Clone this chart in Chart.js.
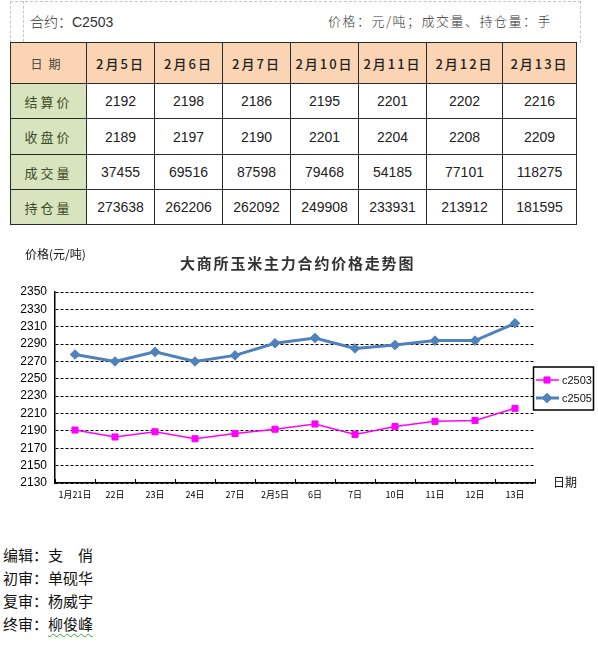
<!DOCTYPE html>
<html>
<head>
<meta charset="utf-8">
<script src="https://cdn.jsdelivr.net/npm/chart.js@4.4.1/dist/chart.umd.min.js"></script>
<style>
  html,body{margin:0;padding:0;background:#fff;}
  body{width:598px;height:647px;position:relative;overflow:hidden;font-family:"Noto Sans CJK SC",sans-serif;}
  #hdrbox{position:absolute;left:10px;top:1px;width:571px;height:42px;border:1px dashed #c4c4c4;border-bottom:none;box-sizing:border-box;}
  #hdrline{position:absolute;left:23px;top:1px;width:0;height:41px;border-left:1px dashed #c4c4c4;}
  #contract{position:absolute;left:30px;top:12px;font-size:14px;line-height:18px;color:#333;font-weight:300;}
  #contract .en{font-family:"Liberation Sans",Arial,sans-serif;font-weight:400;}
  #units{position:absolute;left:328px;top:12px;font-size:13px;line-height:18px;color:#333;letter-spacing:1.5px;font-weight:300;}
  table#tbl{position:absolute;left:10px;top:42px;border-collapse:collapse;table-layout:fixed;}
  #tbl td{border:1.5px solid #2a2a2a;text-align:center;padding:0;vertical-align:middle;}
  #tbl td.h{background:#FBD4B4;font-weight:500;font-size:13px;letter-spacing:2px;color:#222;}
  #tbl td.h0{background:#FBD4B4;font-size:12px;letter-spacing:6px;color:#444;font-weight:400;}
  #tbl td.l{background:#D7E4BD;font-size:13px;letter-spacing:3px;color:#3e4a27;font-weight:400;}
  #tbl td.n{font-family:"Liberation Sans Narrow","Arial Narrow","Liberation Sans",sans-serif;font-size:14px;color:#222;background:#fff;}
  #chartwrap{position:absolute;left:0;top:235px;width:598px;height:285px;}
  #title{position:absolute;left:180px;top:253px;font-size:15px;line-height:20px;font-weight:700;letter-spacing:1.8px;color:#333;white-space:nowrap;}
  #yname{position:absolute;left:25px;top:246px;font-size:12px;line-height:16px;color:#111;white-space:nowrap;}
  #xname{position:absolute;left:553px;top:474px;font-size:12px;line-height:16px;color:#111;white-space:nowrap;}
  #credits{position:absolute;left:3px;top:543px;font-size:15px;line-height:23px;color:#111;}
  #credits .wavy{text-decoration:underline wavy #3a3;text-underline-offset:3px;text-decoration-thickness:1px;}
</style>
</head>
<body>
<div id="hdrbox"></div>
<div id="hdrline"></div>
<div id="contract">合约：<span class="en">C2503</span></div>
<div id="units">价格：元/吨；成交量、持仓量：手</div>
<table id="tbl"></table>

<div id="chartwrap"><canvas id="c" width="598" height="285"></canvas></div>
<div id="title">大商所玉米主力合约价格走势图</div>
<div id="yname">价格(元/吨)</div>
<div id="xname">日期</div>

<div id="credits">
  <div>编辑：支　俏</div>
  <div>初审：单砚华</div>
  <div>复审：杨威宇</div>
  <div>终审：<span class="wavy">柳俊峰</span></div>
</div>

<script>
// ---------- table data ----------
const tableDates = ['2月5日','2月6日','2月7日','2月10日','2月11日','2月12日','2月13日'];
const settlePrice = [2192, 2198, 2186, 2195, 2201, 2202, 2216];
const closePrice  = [2189, 2197, 2190, 2201, 2204, 2208, 2209];
const volume      = [37455, 69516, 87598, 79468, 54185, 77101, 118275];
const openInterest= [273638, 262206, 262092, 249908, 233931, 213912, 181595];
const rowLabels = ['结算价','收盘价','成交量','持仓量'];

// ---------- chart data ----------
const categories = ['1月21日','22日','23日','24日','27日','2月5日','6日','7日','10日','11日','12日','13日'];
const seriesC2503 = [2191, 2183, 2189, 2181, 2187, 2192, 2198, 2186, 2195, 2201, 2202, 2216];
const seriesC2505 = [2278, 2270, 2281, 2270, 2277, 2291, 2297, 2285, 2289, 2294, 2294, 2314];
const seriesNames = ['c2503', 'c2505'];
const yMin = 2130, yMax = 2350, yStep = 20;

// ---------- build table ----------
(function(){
  const colW = [76,68,68,68,68,68,76,74];
  const rowH = [41,35,36,35,35];
  const tbl = document.getElementById('tbl');
  const cg = document.createElement('colgroup');
  colW.forEach(w=>{const c=document.createElement('col');c.style.width=w+'px';cg.appendChild(c);});
  tbl.appendChild(cg);
  const rows = [settlePrice, closePrice, volume, openInterest];
  const hr = document.createElement('tr'); hr.style.height = rowH[0]+'px';
  const h0 = document.createElement('td'); h0.className='h0'; h0.textContent='日期'; hr.appendChild(h0);
  tableDates.forEach(d=>{const td=document.createElement('td');td.className='h';td.textContent=d;hr.appendChild(td);});
  tbl.appendChild(hr);
  rows.forEach((r,i)=>{
    const tr=document.createElement('tr'); tr.style.height=rowH[i+1]+'px';
    const l=document.createElement('td'); l.className='l'; l.textContent=rowLabels[i]; tr.appendChild(l);
    r.forEach(v=>{const td=document.createElement('td');td.className='n';td.textContent=v;tr.appendChild(td);});
    tbl.appendChild(tr);
  });
})();

// ---------- legend plugin ----------
const boxLegend = {
  id:'boxLegend',
  afterDraw(chart){
    const ctx = chart.ctx;
    ctx.save();
    ctx.strokeStyle = '#000'; ctx.lineWidth = 1.5;
    ctx.strokeRect(533.5, 132, 60, 43);
    chart.data.datasets.forEach((ds,i)=>{
      const y = 145 + i*18;
      ctx.strokeStyle = ds.borderColor; ctx.lineWidth = ds.borderWidth;
      ctx.beginPath(); ctx.moveTo(536, y); ctx.lineTo(559, y); ctx.stroke();
      ctx.fillStyle = ds.pointBackgroundColor; ctx.strokeStyle = ds.pointBorderColor; ctx.lineWidth = 1;
      if (Chart.helpers && Chart.helpers.drawPoint) {
        Chart.helpers.drawPoint(ctx, {pointStyle: ds.pointStyle, radius: ds.pointRadius, borderWidth: 1, rotation: 0}, 547, y);
      }
      ctx.fillStyle = '#111';
      ctx.font = "11px 'Liberation Sans Narrow','Liberation Sans',Arial,sans-serif";
      ctx.textAlign = 'left'; ctx.textBaseline = 'middle';
      ctx.fillText(ds.label, 562, y + 0.5);
    });
    ctx.restore();
  }
};

new Chart(document.getElementById('c'), {
  type: 'line',
  data: {
    labels: categories,
    datasets: [
      {
        label: seriesNames[0], data: seriesC2503,
        borderColor: '#FF00FF', backgroundColor: '#FF00FF', borderWidth: 1.5,
        pointStyle: 'rect', pointRadius: 4.3, pointBackgroundColor: '#FF00FF', pointBorderColor: '#FF00FF',
        pointBorderWidth: 1, tension: 0, fill: false
      },
      {
        label: seriesNames[1], data: seriesC2505,
        borderColor: '#4F81BD', backgroundColor: '#4F81BD', borderWidth: 3,
        pointStyle: 'rectRot', pointRadius: 4.8, pointBackgroundColor: '#4F81BD', pointBorderColor: '#4F81BD',
        pointBorderWidth: 1, tension: 0, fill: false
      }
    ]
  },
  options: {
    responsive: false,
    animation: false,
    events: [],
    layout: { padding: { top: 57, right: 63, bottom: 0, left: 0 } },
    plugins: { legend: { display: false }, title: { display: false }, tooltip: { enabled: false } },
    scales: {
      x: {
        offset: true,
        grid: { display: true, offset: true, drawOnChartArea: false, drawTicks: true, tickLength: -4, tickColor: '#000', tickWidth: 1 },
        border: { display: true, color: '#000', width: 1.5 },
        ticks: { color: '#000', font: { family: 'Noto Sans CJK SC', size: 9 }, maxRotation: 0, minRotation: 0, autoSkip: false, padding: 10 },
        afterFit(scale){ scale.height = 37; }
      },
      y: {
        min: yMin, max: yMax,
        grid: { color: '#000', lineWidth: 1, drawTicks: false },
        border: { display: true, color: '#000', width: 1.5, dash: [3, 2] },
        ticks: { stepSize: yStep, autoSkip: false, color: '#000', font: { family: 'Liberation Sans', size: 12 }, padding: 8,
                 callback: (v) => String(v) },
        afterFit(scale){ scale.width = 55; }
      }
    }
  },
  plugins: [boxLegend]
});
</script>
</body>
</html>
